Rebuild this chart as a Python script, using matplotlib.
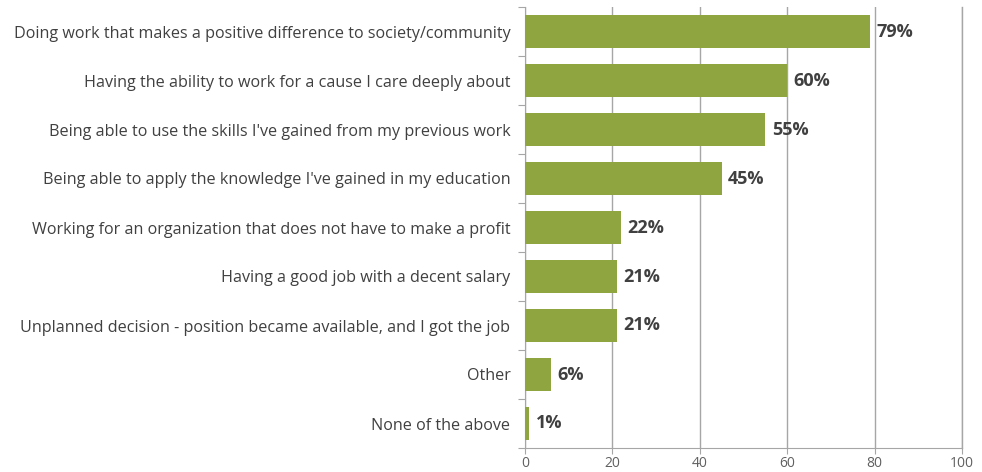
import matplotlib
matplotlib.use("Agg")
import matplotlib.pyplot as plt

categories = [
    "Doing work that makes a positive difference to society/community",
    "Having the ability to work for a cause I care deeply about",
    "Being able to use the skills I've gained from my previous work",
    "Being able to apply the knowledge I've gained in my education",
    "Working for an organization that does not have to make a profit",
    "Having a good job with a decent salary",
    "Unplanned decision - position became available, and I got the job",
    "Other",
    "None of the above",
]
values = [79, 60, 55, 45, 22, 21, 21, 6, 1]
xticks = [0, 20, 40, 60, 80, 100]

plt.rcParams['font.family'] = ['Open Sans', 'DejaVu Sans']

fig = plt.figure(figsize=(9.82, 4.72), dpi=100)
ax = fig.add_axes([525/982, 1-448/472, (962-525)/982, (448-7)/472])

grid_c = '#a6a6a6'
bar_c = '#8fa640'
ypos = list(range(len(categories)))
ax.barh(ypos, values, height=0.66, color=bar_c, zorder=3)
ax.set_ylim(len(categories)-0.5, -0.5)
ax.set_xlim(0, 100)
ax.set_xticks(xticks)
ax.set_xticklabels([str(t) for t in xticks], fontsize=10, color='#606060')
ax.set_yticks([i+0.5 for i in range(-1, len(categories))], minor=False)
ax.set_yticklabels([])
ax.set_yticks(ypos, minor=True)
ax.set_yticklabels(categories, minor=True, fontsize=11.6, color='#404040')
ax.tick_params(axis='y', which='minor', length=0, pad=10.5)
ax.tick_params(axis='y', which='major', length=5, color=grid_c)
ax.tick_params(axis='x', length=4, color=grid_c, pad=1.5)
ax.grid(axis='x', color=grid_c, linewidth=1, zorder=0)
ax.axvline(xticks[-1], color=grid_c, linewidth=1, zorder=0, clip_on=False)
for s in ['top', 'right']:
    ax.spines[s].set_visible(False)
for s in ['left', 'bottom']:
    ax.spines[s].set_color(grid_c)
for y, v in zip(ypos, values):
    ax.text(v + 1.5, y, f"{v}%", va='center', ha='left', fontsize=13,
            fontweight='bold', color='#404040', zorder=4)

fig.savefig("out.png", dpi=100)
